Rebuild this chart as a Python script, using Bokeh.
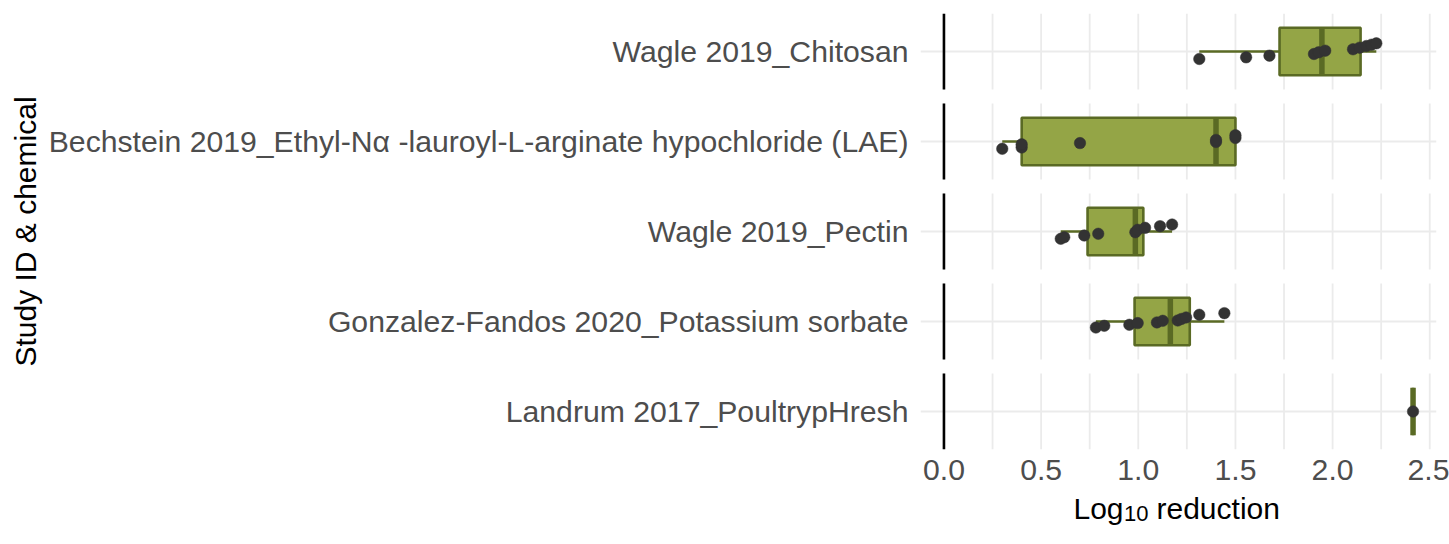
from bokeh.plotting import figure
from bokeh.layouts import column
from bokeh.models import Range1d, FixedTicker, NumeralTickFormatter, ColumnDataSource
from bokeh.core.properties import value
from bokeh.embed import file_html
from bokeh.resources import INLINE

# ---------------- data ----------------
studies = [
    "Wagle 2019_Chitosan",
    "Bechstein 2019_Ethyl-N\u03b1 -lauroyl-L-arginate hypochloride (LAE)",
    "Wagle 2019_Pectin",
    "Gonzalez-Fandos 2020_Potassium sorbate",
    "Landrum 2017_PoultrypHresh",
]

# box-plot statistics (log10 reduction)
whisker_low = [1.314, 0.300, 0.601, 0.782, 2.414]
q1 = [1.727, 0.400, 0.739, 0.981, 2.414]
median = [1.945, 1.400, 0.985, 1.165, 2.414]
q3 = [2.144, 1.500, 1.026, 1.265, 2.414]
whisker_high = [2.225, 1.500, 1.174, 1.443, 2.414]

# individual observations (value, jittered position within the facet, 1 = centre)
chitosan_x = [1.314, 1.555, 1.675, 1.904, 1.928, 1.962, 2.105, 2.139, 2.174, 2.200, 2.225]
chitosan_y = [0.882, 0.908, 0.934, 0.961, 0.987, 1.013, 1.035, 1.060, 1.087, 1.107, 1.129]
lae_x = [0.300, 0.400, 0.400, 0.700, 1.400, 1.400, 1.500, 1.500]
lae_y = [0.885, 0.905, 0.956, 0.975, 0.992, 1.025, 1.055, 1.100]
pectin_x = [0.601, 0.619, 0.722, 0.794, 0.985, 0.997, 1.035, 1.112, 1.174]
pectin_y = [0.885, 0.910, 0.937, 0.964, 0.989, 1.027, 1.058, 1.084, 1.110]
sorbate_x = [0.782, 0.825, 0.954, 0.997, 1.096, 1.126, 1.203, 1.222, 1.246, 1.314, 1.443]
sorbate_y = [0.905, 0.932, 0.948, 0.975, 0.985, 1.011, 1.016, 1.040, 1.064, 1.106, 1.132]
poultry_x = [2.414]
poultry_y = [1.000]

points_x = [chitosan_x, lae_x, pectin_x, sorbate_x, poultry_x]
points_y = [chitosan_y, lae_y, pectin_y, sorbate_y, poultry_y]

x_ticks = [0.0, 0.5, 1.0, 1.5, 2.0, 2.5]
x_title = ["Log", "10", "reduction"]
y_title = "Study ID & chemical"

# ---------------- styling / layout ----------------
FONT = "Liberation Sans"
FILL = "#94A546"
EDGE = "#5A6A24"
POINT = "#333333"
GRID = "#EBEBEB"

W = 1449
MAIN_H = 494
TITLE_H = 50
FRAME_L = 920
FRAME_R = 1436
PANEL_PX = 76
GAP_PX = 14
STEP_PX = PANEL_PX + GAP_PX
s = (PANEL_PX / 1.2) / STEP_PX      # local ggplot unit -> global unit
half_panel = 0.6 * s
half_box = 0.375 * s

n = len(studies)
centres = [n - i for i in range(n)]   # top facet has the largest value

all_vals = [v for arr in points_x for v in arr] + whisker_low + whisker_high + [0.0]
lo, hi = min(all_vals), max(all_vals)
pad = 0.05 * (hi - lo)
x_lo, x_hi = lo - pad, hi + pad

p = figure(width=W, height=MAIN_H, output_backend="svg", toolbar_location=None,
           x_range=Range1d(x_lo, x_hi),
           y_range=Range1d(centres[-1] - half_panel, centres[0] + half_panel),
           min_border_left=FRAME_L, min_border_right=W - FRAME_R,
           min_border_top=13, min_border_bottom=45)
p.outline_line_color = None
p.xgrid.grid_line_color = None
p.ygrid.grid_line_color = None
p.background_fill_color = "white"
p.border_fill_color = "white"

# grid per facet
minor = [(a + b) / 2 for a, b in zip(x_ticks[:-1], x_ticks[1:])]
grid_vals = sorted(x_ticks + minor)
vx, vy0, vy1 = [], [], []
hx0, hx1, hy = [], [], []
for c in centres:
    for g in grid_vals:
        vx.append(g); vy0.append(c - half_panel); vy1.append(c + half_panel)
    hx0.append(x_lo); hx1.append(x_hi); hy.append(c)
p.segment(x0=vx, y0=vy0, x1=vx, y1=vy1, line_color=GRID, line_width=1.8)
p.segment(x0=hx0, y0=hy, x1=hx1, y1=hy, line_color=GRID, line_width=1.8)

# reference line at 0 in each facet
p.segment(x0=[0.0] * n, y0=[c - half_panel for c in centres],
          x1=[0.0] * n, y1=[c + half_panel for c in centres],
          line_color="black", line_width=2.6)

# box plots
box = ColumnDataSource(dict(
    c=centres, q1=q1, q3=q3, med=median, wl=whisker_low, wh=whisker_high,
    bot=[c - half_box for c in centres], top=[c + half_box for c in centres]))
p.segment(x0="wl", y0="c", x1="q1", y1="c", source=box, line_color=EDGE, line_width=2.6)
p.segment(x0="q3", y0="c", x1="wh", y1="c", source=box, line_color=EDGE, line_width=2.6)
p.quad(left="q1", right="q3", bottom="bot", top="top", source=box,
       fill_color=FILL, line_color=EDGE, line_width=2.6)
p.segment(x0="med", y0="bot", x1="med", y1="top", source=box, line_color=EDGE, line_width=5.5)

# jittered points
px, py = [], []
for c, xs, ys in zip(centres, points_x, points_y):
    for xv, yv in zip(xs, ys):
        px.append(xv)
        py.append(c + (yv - 1.0) * s)
p.scatter(px, py, size=11.5, fill_color=POINT, line_color=POINT, line_width=0.5)

# axes
p.xaxis.ticker = FixedTicker(ticks=x_ticks)
p.xaxis.formatter = NumeralTickFormatter(format="0.0")
p.yaxis.ticker = FixedTicker(ticks=centres)
p.yaxis.major_label_overrides = {c: lab for c, lab in zip(centres, studies)}
for ax in (p.xaxis[0], p.yaxis[0]):
    ax.axis_line_color = None
    ax.major_tick_line_color = None
    ax.minor_tick_line_color = None
    ax.major_tick_out = 0
    ax.major_tick_in = 0
    ax.minor_tick_out = 0
    ax.major_label_text_font = FONT
    ax.major_label_text_font_size = "30.2px"
    ax.major_label_text_color = "#4D4D4D"
p.xaxis.major_label_standoff = 10
p.yaxis.major_label_standoff = 12

p.yaxis.axis_label = y_title
p.yaxis.axis_label_text_font = FONT
p.yaxis.axis_label_text_font_size = "30px"
p.yaxis.axis_label_text_font_style = "normal"
p.yaxis.axis_label_text_color = "black"
p.yaxis.axis_label_standoff = 4

# x-axis title strip; its frame is aligned with the main frame by the column layout,
# so positions are pixels measured from the frame's left edge
t = figure(width=W, height=TITLE_H, output_backend="svg", toolbar_location=None,
           x_range=Range1d(0, FRAME_R - FRAME_L), y_range=Range1d(0, TITLE_H),
           x_axis_type=None, y_axis_type=None,
           min_border_left=FRAME_L, min_border_right=W - FRAME_R,
           min_border_top=0, min_border_bottom=0)
t.outline_line_color = None
t.xgrid.grid_line_color = None
t.ygrid.grid_line_color = None
t.background_fill_color = "white"
t.border_fill_color = "white"
t.text(x=[153], y=[36.2], text=[x_title[0]], text_font=value(FONT), text_font_size=value("30px"),
       text_color="black", text_align="left", text_baseline="alphabetic")
t.text(x=[203.5], y=[31.2], text=[x_title[1]], text_font=value(FONT), text_font_size=value("22px"),
       text_color="black", text_align="left", text_baseline="alphabetic")
t.text(x=[236], y=[36.2], text=[x_title[2]], text_font=value(FONT), text_font_size=value("30px"),
       text_color="black", text_align="left", text_baseline="alphabetic")

layout = column(p, t, spacing=0)
open("out.html", "w").write(file_html(layout, INLINE))
